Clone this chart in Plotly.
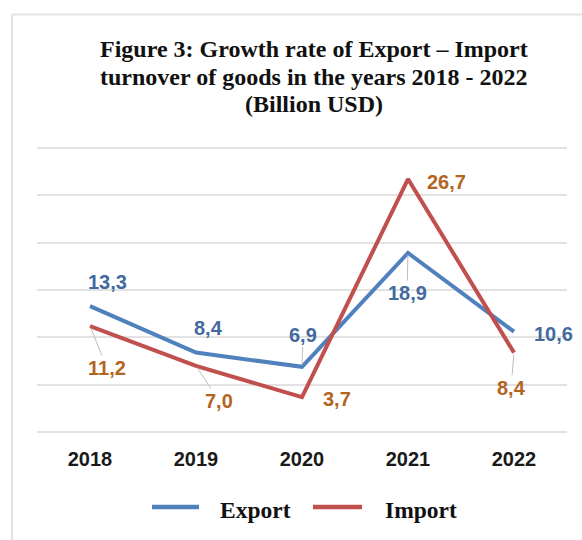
import plotly.graph_objects as go

# ---- data -------------------------------------------------------------
years = ["2018", "2019", "2020", "2021", "2022"]
export_values = [13.3, 8.4, 6.9, 18.9, 10.6]
import_values = [11.2, 7.0, 3.7, 26.7, 8.4]
series_names = ["Export", "Import"]
title_lines = [
    "Figure 3: Growth rate of Export – Import",
    "turnover of goods in the years 2018 - 2022",
    "(Billion USD)",
]

# ---- styling ----------------------------------------------------------
W, H = 582, 540
ML, MR, MT, MB = 37, 15, 143, 103
PLOT_W = W - ML - MR
PLOT_H = H - MT - MB

line_colors = ["#4f81bd", "#c0504d"]
label_colors = ["#43699f", "#b3651f"]
serif = "Liberation Serif, Times New Roman, serif"
sans = "Liberation Sans, Arial, sans-serif"

# label offsets (px) from each point, and whether a leader line is drawn
export_offsets = [(17, -24), (12, -25), (1, -32), (-1, 40), (39, 2)]
export_leader = [False, False, True, True, False]
import_offsets = [(17, 42), (23, 35), (35, 2), (38, 3), (-3, 35)]
import_leader = [True, True, False, False, True]


def px_x(px):
    return (px - ML) / PLOT_W


def px_y(py):
    return (H - MB - py) / PLOT_H


fig = go.Figure()
for name, vals, col in zip(series_names, [export_values, import_values], line_colors):
    fig.add_trace(go.Scatter(
        x=years, y=vals, name=name, mode="lines",
        line=dict(color=col, width=4),
        showlegend=False, hoverinfo="skip",
    ))

annotations = []
for vals, offs, leaders, col in [
    (export_values, export_offsets, export_leader, label_colors[0]),
    (import_values, import_offsets, import_leader, label_colors[1]),
]:
    # category positions on the x axis are the serial indices of the years
    for i, (v, (dx, dy), lead) in enumerate(zip(vals, offs, leaders)):
        annotations.append(dict(
            x=i, y=v, xref="x", yref="y",
            text=f"{v:.1f}".replace(".", ","),
            showarrow=True, ax=dx, ay=dy, axref="pixel", ayref="pixel",
            arrowhead=0, arrowwidth=1, standoff=2,
            arrowcolor="#bdbdbd" if lead else "rgba(0,0,0,0)",
            font=dict(family=sans, size=20, color=col, weight="bold"),
        ))

# title lines
for txt, py in zip(title_lines, [49, 77, 104]):
    annotations.append(dict(
        x=px_x(314), y=px_y(py), xref="paper", yref="paper",
        xanchor="center", yanchor="middle", showarrow=False, text=txt,
        font=dict(family=serif, size=24, color="#111111", weight="bold"),
    ))

# legend
shapes = []
legend_items = [(152, 199, 218), (313, 362, 383)]
for name, col, (x0, x1, tx) in zip(series_names, line_colors, legend_items):
    shapes.append(dict(type="line", xref="paper", yref="paper",
                       x0=px_x(x0), x1=px_x(x1), y0=px_y(507), y1=px_y(507),
                       line=dict(color=col, width=4.5)))
    annotations.append(dict(
        x=px_x(tx), y=px_y(510), xref="paper", yref="paper",
        xanchor="left", yanchor="middle", showarrow=False, text=name,
        font=dict(family=serif, size=23.5, color="#111111", weight="bold"),
    ))

# thin frame along the top and left edge
shapes.append(dict(type="line", xref="paper", yref="paper",
                   x0=px_x(12), x1=px_x(590), y0=px_y(14.5), y1=px_y(14.5),
                   line=dict(color="#e4e4e4", width=2)))
shapes.append(dict(type="line", xref="paper", yref="paper",
                   x0=px_x(12), x1=px_x(12), y0=px_y(14.5), y1=px_y(550),
                   line=dict(color="#e4e4e4", width=2)))

fig.update_layout(
    width=W, height=H,
    margin=dict(l=ML, r=MR, t=MT, b=MB),
    paper_bgcolor="white", plot_bgcolor="white",
    annotations=annotations, shapes=shapes,
    showlegend=False,
)
fig.update_xaxes(
    type="category", range=[-0.5, 4.5], showgrid=False, showline=False,
    ticks="", ticklabelstandoff=8,
    tickfont=dict(family=sans, size=20, color="#1a1a1a", weight="bold"),
)
fig.update_yaxes(
    range=[-0.5, 30.5], tick0=0, dtick=5, showticklabels=False,
    showgrid=True, gridcolor="#e2e2e2", gridwidth=1.5,
    zeroline=True, zerolinecolor="#e2e2e2", zerolinewidth=1.5,
)

fig.write_html("out.html")
